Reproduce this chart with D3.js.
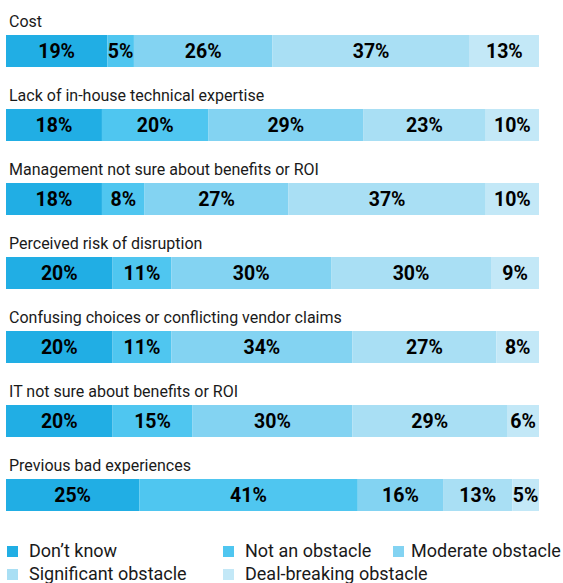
<!DOCTYPE html>
<html lang="en">
  <head>
    <meta charset="utf-8" />
    <title>Obstacles</title>
    <script src="https://cdnjs.cloudflare.com/ajax/libs/d3/7.8.5/d3.min.js"></script>
    <style>
      body {
        margin: 0;
        background: #fff;
        font-family: Roboto, "Liberation Sans", sans-serif;
      }
      .cat {
        font-size: 16px;
        fill: #1a1a1a;
      }
      .pct {
        font-size: 19.5px;
        font-weight: bold;
        fill: #000;
      }
      .leg {
        font-size: 18px;
        fill: #1a1a1a;
      }
    </style>
  </head>
  <body>
    <div id="chart"></div>
    <script>
      const categories = [
        "Cost",
        "Lack of in-house technical expertise",
        "Management not sure about benefits or ROI",
        "Perceived risk of disruption",
        "Confusing choices or conflicting vendor claims",
        "IT not sure about benefits or ROI",
        "Previous bad experiences",
      ];
      const series = ["Don\u2019t know", "Not an obstacle", "Moderate obstacle", "Significant obstacle", "Deal-breaking obstacle"];
      const dontKnow = [19, 18, 18, 20, 20, 20, 25];
      const notObstacle = [5, 20, 8, 11, 11, 15, 41];
      const moderate = [26, 29, 27, 30, 34, 30, 16];
      const significant = [37, 23, 37, 30, 27, 29, 13];
      const dealBreaking = [13, 10, 10, 9, 8, 6, 5];
      const colors = ["#21aee4", "#4fc6f0", "#83d3f2", "#a9dff4", "#c3e8f7"];

      const width = 563, height = 583;
      const svg = d3.select("#chart").append("svg")
        .attr("width", width).attr("height", height);

      const rows = categories.map((c, i) => ({
        name: c,
        values: [dontKnow[i], notObstacle[i], moderate[i], significant[i], dealBreaking[i]],
      }));

      const barH = 32;
      const x = d3.scaleLinear().domain([0, 100]).range([6, 539]);
      // one band per row, bar sits at the band start, label above it
      const y = d3.scaleBand().domain(categories).range([35, 35 + 7 * 74]);

      const g = svg.selectAll(".row").data(rows).enter().append("g")
        .attr("class", "row")
        .attr("transform", (d) => `translate(0,${y(d.name)})`);

      g.append("text").attr("class", "cat")
        .attr("x", 9).attr("y", -8)
        .text((d) => d.name);

      const segs = g.selectAll(".seg")
        .data((d) => {
          let acc = 0;
          return d.values.map((v, k) => {
            const s = { k, v, x0: acc, x1: acc + v };
            acc += v;
            return s;
          });
        })
        .enter();

      segs.append("rect")
        .attr("x", (d) => x(d.x0))
        .attr("width", (d) => x(d.x1) - x(d.x0))
        .attr("height", barH)
        .attr("fill", (d) => colors[d.k]);

      segs.append("text").attr("class", "pct")
        .attr("x", (d) => (x(d.x0) + x(d.x1)) / 2)
        .attr("y", barH / 2 + 7)
        .attr("text-anchor", "middle")
        .text((d) => d.v + "%");

      // legend
      const legPos = [[7, 557], [223, 557], [393, 557], [7, 580], [223, 580]];
      const leg = svg.selectAll(".legitem").data(series).enter().append("g")
        .attr("transform", (d, i) => `translate(${legPos[i][0]},${legPos[i][1]})`);
      leg.append("rect").attr("y", -11).attr("width", 11).attr("height", 11)
        .attr("fill", (d, i) => colors[i]);
      leg.append("text").attr("class", "leg").attr("x", (d, i) => (i === 2 ? 18 : 22)).attr("y", 0)
        .text((d) => d);
    </script>
  </body>
</html>
